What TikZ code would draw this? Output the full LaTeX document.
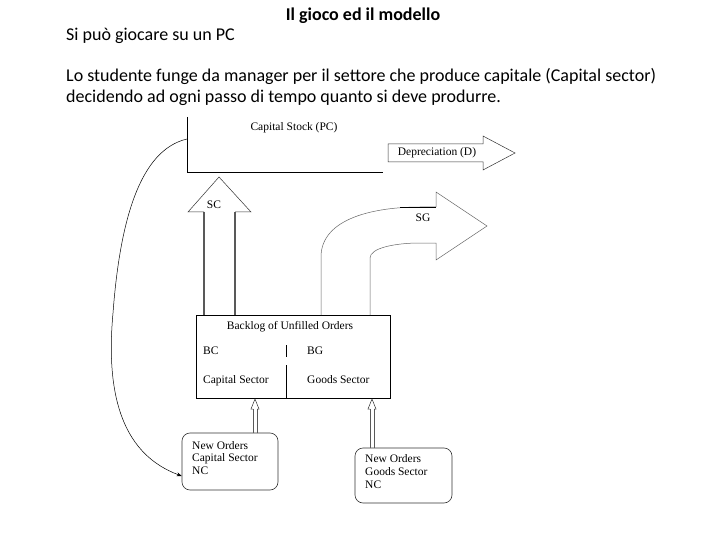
\documentclass[tikz,border=0pt]{standalone}
\usepackage{fontspec}
\setmainfont{Liberation Serif}
\newfontfamily\hdr{Carlito}
\usetikzlibrary{arrows.meta}
\begin{document}
\begin{tikzpicture}[x=1pt,y=-1pt,
  hdrtext/.style={font=\hdr\fontsize{18}{21}\selectfont, inner sep=0pt, anchor=mid west},
  dtext/.style={font=\fontsize{11.5}{13}\selectfont, inner sep=0pt},
  ln/.style={draw=black, line width=0.7pt},
  thinln/.style={draw=black!80, line width=0.5pt},
  shaft/.style={draw=black!65, line width=1.4pt},
  box/.style={draw=black, line width=0.7pt, inner sep=0pt},
  rbox/.style={draw=black!80, line width=0.6pt, rounded corners=8pt, inner sep=0pt}]
\fill[white] (0,0) rectangle (720,540);
\useasboundingbox (0,0) rectangle (720,540);

% header
\node[font=\hdr\bfseries\fontsize{18}{21}\selectfont, inner sep=0pt] (title) at (363,16) {Il gioco ed il modello};
\node[hdrtext] (pc) at (66,38) {Si può giocare su un PC};
\node[hdrtext] (l1) at (66,79.5) {Lo studente funge da manager per il settore che produce capitale (Capital sector)};
\node[hdrtext] (l2) at (66,100.5) {decidendo ad ogni passo di tempo quanto si deve produrre.};

% capital stock
\draw[ln] (187,117) |- (383,172);
\node[dtext] (cs) at (294,128) {Capital Stock (PC)};
\coordinate (csfb) at (187,139);

% depreciation arrow
\draw[thinln] (388,144) -- (483,144) -- (483,136) -- (515,153) -- (483,170) -- (483,162) -- (388,162) -- cycle;
\node[dtext] (dep) at (437,153) {Depreciation (D)};

% backlog box
\node[box, minimum width=194pt, minimum height=83pt] (backlog) at (293,356.5) {};
\node[dtext] (bt) at (290,327) {Backlog of Unfilled Orders};
\draw[ln] (286,345) -- (286,357);
\draw[ln] (286,365) -- (backlog.south -| 286,0);
\node[dtext, anchor=mid west] (bc) at (203,352) {BC};
\node[dtext, anchor=mid west] (bg) at (307,352) {BG};
\node[dtext, anchor=mid west] (cap) at (203,381) {Capital Sector};
\node[dtext, anchor=mid west] (gds) at (307,381) {Goods Sector};

% SC arrow
\draw[shaft] (204,315) -- (204,212);
\draw[shaft] (235,315) -- (235,212);
\draw[thinln] (204,212) -- (188,212) -- (219,177) -- (251,212) -- (235,212);
\node[dtext] (sc) at (214,205) {SC};

% SG arrow
\draw[thinln, draw=black!60] (321,315) -- (321,257) .. controls (321,218) and (375,207) .. (420,207) -- (436,207) -- (436,192) -- (487,226) -- (436,260) -- (436,243) -- (420,243) .. controls (395,243) and (370,248) .. (370,258) -- (370,315);
\draw[line width=0.7pt] (400,207) -- (436,207);
\node[dtext] (sg) at (423,218) {SG};

% new orders boxes
\node[rbox, minimum width=96pt, minimum height=57pt] (nocap) at (230,461.5) {};
\node[dtext, anchor=north west, align=left, font=\fontsize{11.5}{12.8}\selectfont] (nocapt) at (192,441) {New Orders\\Capital Sector\\NC};
\node[rbox, minimum width=97pt, minimum height=55pt] (nogds) at (403.5,475.5) {};
\node[dtext, anchor=north west, align=left, font=\fontsize{11.5}{13}\selectfont] (nogdst) at (365,454) {New Orders\\Goods Sector\\NC};

% small hollow arrows
\draw[shaft, line width=0.9pt] (253,433) -- (253,409);
\draw[shaft, line width=0.9pt] (257,433) -- (257,409);
\draw[thinln] (253,409) -- (251,409) -- (255,399) -- (259,409) -- (257,409);
\draw[shaft, line width=0.9pt] (370,448) -- (370,409);
\draw[shaft, line width=0.9pt] (374,448) -- (374,409);
\draw[thinln] (370,409) -- (368,409) -- (372,399) -- (376,409) -- (374,409);

% feedback curve
\draw[line width=0.5pt, -{Stealth[length=5pt,width=4pt]}] (csfb) .. controls (140,150) and (120,220) .. (113,313) .. controls (105,400) and (125,455) .. (nocap.west |- 0,476);
\end{tikzpicture}
\end{document}
